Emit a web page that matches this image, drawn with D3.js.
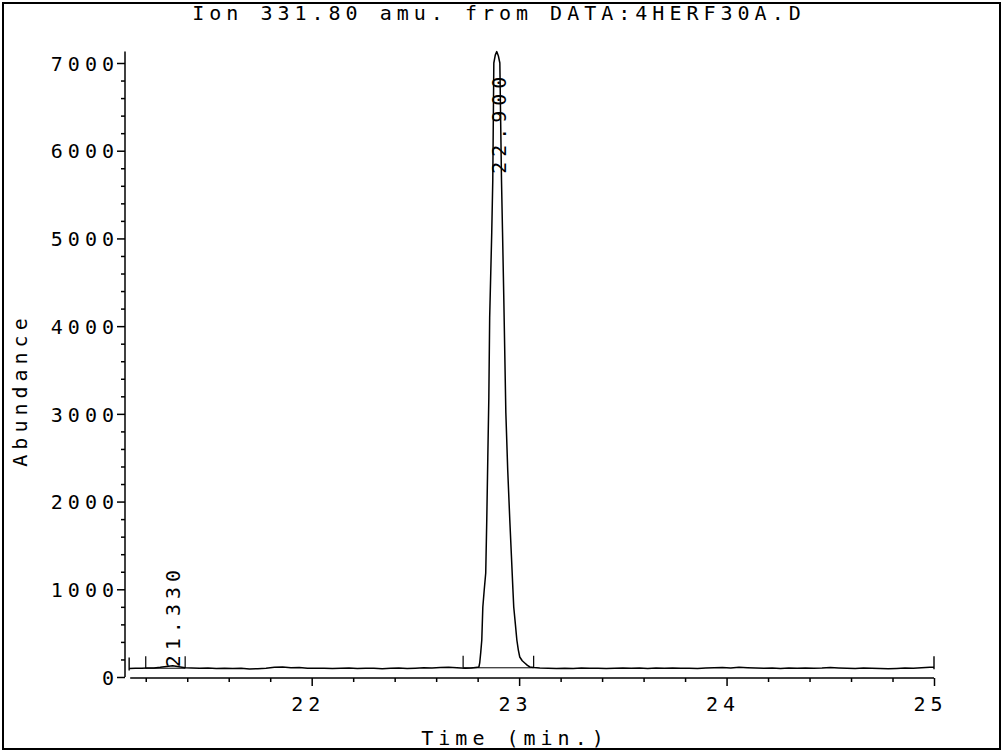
<!DOCTYPE html>
<html>
<head>
<meta charset="utf-8">
<script src="https://cdn.jsdelivr.net/npm/d3@7"></script>
<style>
body { margin: 0; background: #fff; }
text { font-family: "DejaVu Sans Mono", "Liberation Mono", monospace; font-size: 20px; letter-spacing: 5px; fill: #000; }
</style>
</head>
<body>
<script>
// titles
var chartTitle = "Ion 331.80 amu. from DATA:4HERF30A.D";
var xTitle = "Time (min.)";
var yTitle = "Abundance";

// tick values
var xMajor = [22, 23, 24, 25];
var yMajor = [0, 1000, 2000, 3000, 4000, 5000, 6000, 7000];

// ion trace [time (min), abundance]
var leadIn = [
	[21.12, 96], [21.15, 101], [21.18, 99], [21.21, 104], [21.24, 102], [21.27, 110],
	[21.30, 121], [21.33, 128], [21.36, 118], [21.39, 106], [21.42, 103], [21.46, 100],
	[21.50, 102], [21.54, 98], [21.58, 100], [21.62, 97], [21.66, 99], [21.70, 92],
	[21.74, 95], [21.78, 101], [21.82, 110], [21.86, 114], [21.90, 105], [21.94, 108],
	[21.98, 100], [22.02, 99], [22.06, 101], [22.10, 97], [22.14, 100], [22.18, 103],
	[22.22, 98], [22.26, 101], [22.30, 99], [22.34, 95], [22.38, 100], [22.42, 102],
	[22.46, 98], [22.50, 101], [22.54, 106], [22.58, 103], [22.62, 108], [22.66, 111],
	[22.70, 106], [22.74, 101], [22.77, 104], [22.80, 110]
];
var mainPeak = [
	[22.806, 114], [22.810, 160], [22.815, 280], [22.820, 422], [22.825, 798], [22.832, 1000],
	[22.839, 1186], [22.844, 1790], [22.849, 2500], [22.854, 3190], [22.858, 4100], [22.868, 5070],
	[22.873, 5667], [22.878, 7000], [22.885, 7090], [22.892, 7130], [22.900, 7080], [22.907, 7000],
	[22.915, 5667], [22.920, 5070], [22.926, 4330], [22.936, 3010], [22.945, 2360], [22.955, 1790],
	[22.963, 1370], [22.970, 1000], [22.974, 798], [22.982, 600], [22.989, 422], [22.996, 310],
	[23.003, 228], [23.015, 185], [23.027, 160], [23.040, 132], [23.052, 114], [23.07, 108]
];
var tailOut = [
	[23.10, 103], [23.14, 100], [23.18, 97], [23.22, 100], [23.26, 98], [23.30, 102],
	[23.34, 99], [23.38, 101], [23.42, 97], [23.46, 100], [23.50, 103], [23.54, 99],
	[23.58, 102], [23.62, 98], [23.66, 104], [23.70, 100], [23.74, 102], [23.78, 99],
	[23.82, 101], [23.86, 97], [23.90, 102], [23.94, 105], [23.98, 108], [24.02, 104],
	[24.06, 111], [24.10, 106], [24.14, 103], [24.18, 100], [24.22, 102], [24.26, 98],
	[24.30, 103], [24.34, 100], [24.38, 104], [24.42, 99], [24.46, 102], [24.50, 108],
	[24.54, 104], [24.58, 100], [24.62, 98], [24.66, 102], [24.70, 99], [24.74, 96],
	[24.78, 94], [24.82, 98], [24.86, 104], [24.90, 101], [24.94, 106], [24.98, 110],
	[25.00, 112]
];

// integrated peaks: label, start/end of integration, baseline level
var peakLabels = ["21.330", "22.900"];
var peakStart = [21.20, 22.73];
var peakEnd = [21.39, 23.07];
var peakBase = [100, 105];

var W = 1005, H = 753;
var svg = d3.select("body").append("svg")
	.attr("width", W)
	.attr("height", H);

svg.append("rect")
	.attr("width", W).attr("height", H)
	.attr("fill", "#fff");

// outer frame
svg.append("rect")
	.attr("x", 3).attr("y", 3)
	.attr("width", 997).attr("height", 746)
	.attr("fill", "none")
	.attr("stroke", "#000")
	.attr("stroke-width", 2);

var xs = d3.scaleLinear().domain([21.1, 25]).range([125, 934]);
var ys = d3.scaleLinear().domain([0, 7000]).range([677, 63]);
var xAxisY = 678;

// y axis
var yMinor = d3.range(0, 7001, 200).filter(function(v){ return v % 1000 !== 0; });
svg.append("g")
	.attr("transform", "translate(" + xs(21.1) + ",0)")
	.call(d3.axisLeft(ys).tickValues(yMinor).tickSize(4).tickFormat(""));
var gy = svg.append("g")
	.attr("transform", "translate(" + xs(21.1) + ",0)")
	.call(d3.axisLeft(ys).tickValues(yMajor).tickSize(8).tickPadding(-2).tickFormat(d3.format("d")));
gy.selectAll("text").attr("dy", "0.36em");
svg.append("line")
	.attr("x1", xs(21.1)).attr("x2", xs(21.1))
	.attr("y1", ys(0)).attr("y2", ys(7130))
	.attr("stroke", "#000").attr("stroke-width", 1.5);

// x axis
var xMinor = d3.range(21.2, 25, 0.2).filter(function(v){ return Math.abs(v - Math.round(v)) > 0.01; });
svg.append("g")
	.attr("transform", "translate(0," + xAxisY + ")")
	.call(d3.axisBottom(xs).tickValues(xMinor).tickSize(4).tickFormat(""));
var gx = svg.append("g")
	.attr("transform", "translate(0," + xAxisY + ")")
	.call(d3.axisBottom(xs).tickValues(xMajor).tickSize(8).tickPadding(11).tickFormat(d3.format("d")));
gx.selectAll("text").attr("x", -4);
svg.append("line")
	.attr("x1", xs(21.125)).attr("x2", xs(25))
	.attr("y1", xAxisY).attr("y2", xAxisY)
	.attr("stroke", "#000").attr("stroke-width", 1.5);

svg.selectAll(".domain").remove();
svg.selectAll(".tick line").attr("stroke", "#000").attr("stroke-width", 1.5);

// trace
var trace = leadIn.concat(mainPeak, tailOut);
var line = d3.line()
	.x(function(d){ return xs(d[0]); })
	.y(function(d){ return ys(d[1]); });

svg.append("path")
	.datum(trace)
	.attr("d", line)
	.attr("fill", "none")
	.attr("stroke", "#000")
	.attr("stroke-width", 1.5)
	.attr("stroke-linejoin", "round");

// start / end of data markers
[trace[0], trace[trace.length - 1]].forEach(function(d){
	svg.append("line")
		.attr("x1", xs(d[0])).attr("x2", xs(d[0]))
		.attr("y1", ys(d[1]) + 2).attr("y2", ys(d[1]) - 11)
		.attr("stroke", "#000").attr("stroke-width", 1.4);
});

// integration marks and retention time labels
peakLabels.forEach(function(lab, i){
	var a = peakStart[i], b = peakEnd[i], base = peakBase[i];
	var yb = ys(base);
	[a, b].forEach(function(t){
		svg.append("line")
			.attr("x1", xs(t)).attr("x2", xs(t))
			.attr("y1", yb).attr("y2", yb - 12)
			.attr("stroke", "#000").attr("stroke-width", 1.2);
	});
	svg.append("line")
		.attr("x1", xs(a)).attr("x2", xs(b))
		.attr("y1", yb).attr("y2", yb)
		.attr("stroke", "#000").attr("stroke-width", 1);

	var apex = d3.max(trace.filter(function(d){ return d[0] >= a && d[0] <= b; }), function(d){ return d[1]; });
	var rt = +lab;
	var txt = svg.append("text")
		.attr("text-anchor", "start")
		.attr("dy", "0.36em")
		.text(lab);
	var len = txt.node().getComputedTextLength() - 5;
	var yStart = Math.min(yb - 1, ys(apex) + 25 + len);
	txt.attr("transform", "translate(" + xs(rt) + "," + yStart + ") rotate(-90)");
});

// titles
svg.append("text")
	.attr("x", 499).attr("y", 20)
	.attr("text-anchor", "middle")
	.text(chartTitle);

svg.append("text")
	.attr("x", 515).attr("y", 745)
	.attr("text-anchor", "middle")
	.text(xTitle);

svg.append("text")
	.attr("transform", "translate(20,390) rotate(-90)")
	.attr("text-anchor", "middle")
	.attr("dy", "0.36em")
	.text(yTitle);
</script>
</body>
</html>
